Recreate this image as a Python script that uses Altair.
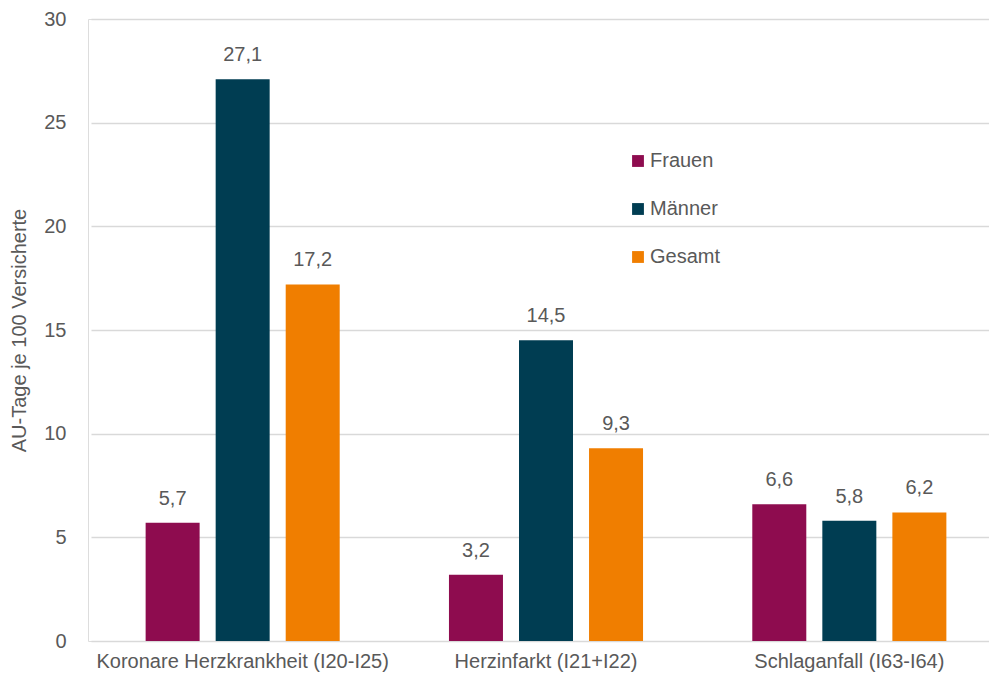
import altair as alt
import pandas as pd

categories = ["Koronare Herzkrankheit (I20-I25)", "Herzinfarkt (I21+I22)", "Schlaganfall (I63-I64)"]
series = ["Frauen", "Männer", "Gesamt"]
frauen = [5.7, 3.2, 6.6]
maenner = [27.1, 14.5, 5.8]
gesamt = [17.2, 9.3, 6.2]
colors = ["#8E0C4F", "#003D52", "#F07E00"]

rows = []
for i, c in enumerate(categories):
    for s, vals in zip(series, [frauen, maenner, gesamt]):
        rows.append({"Kategorie": c, "Gruppe": s, "Wert": vals[i],
                     "Label": f"{vals[i]:.1f}".replace(".", ",")})
df = pd.DataFrame(rows)

FONT = "Liberation Sans"
GREY = "#595959"
FS = 20

x = alt.X("Kategorie:N", sort=categories,
          scale=alt.Scale(paddingInner=0, paddingOuter=0, range=[3, 913]),
          axis=alt.Axis(title=None, labelAngle=0, labelFontSize=FS, labelColor=GREY,
                        labelFont=FONT, ticks=False, domain=False, labelPadding=10, labelLimit=0))
xo = alt.XOffset("Gruppe:N", sort=series,
                 scale=alt.Scale(paddingInner=0.229, paddingOuter=0.78))
y = alt.Y("Wert:Q", scale=alt.Scale(domain=[0, 30]),
          axis=alt.Axis(title="AU-Tage je 100 Versicherte", values=[0, 5, 10, 15, 20, 25, 30],
                        labelFontSize=FS, labelColor=GREY, labelFont=FONT, labelPadding=22,
                        titleFontSize=FS, titleColor=GREY, titleFont=FONT, titleFontWeight="normal",
                        titlePadding=14, ticks=False, domain=False,
                        gridColor="#D9D9D9", gridWidth=1.5))

bars = alt.Chart(df).mark_bar().encode(
    x=x, xOffset=xo, y=y,
    color=alt.Color("Gruppe:N", sort=series,
                    scale=alt.Scale(domain=series, range=colors),
                    legend=alt.Legend(title=None, orient="none", legendX=540, legendY=132,
                                      symbolType="square", symbolSize=140, symbolStrokeWidth=0,
                                      labelFontSize=FS, labelColor=GREY, labelFont=FONT,
                                      rowPadding=28, labelOffset=2)),
)

labels = alt.Chart(df).mark_text(dy=-24, fontSize=FS, color=GREY, font=FONT).encode(
    x=alt.X("Kategorie:N", sort=categories), xOffset=alt.XOffset("Gruppe:N", sort=series),
    y="Wert:Q", text="Label:N")

chart = alt.layer(bars, labels).properties(
    width=901, height=622,
    autosize=alt.AutoSizeParams(type="none"),
    padding={"left": 80, "top": 11, "right": 0, "bottom": 33}
).configure_view(stroke=None).configure(background="white")

chart.save("out.html", embed_options={"renderer": "svg", "actions": False})
